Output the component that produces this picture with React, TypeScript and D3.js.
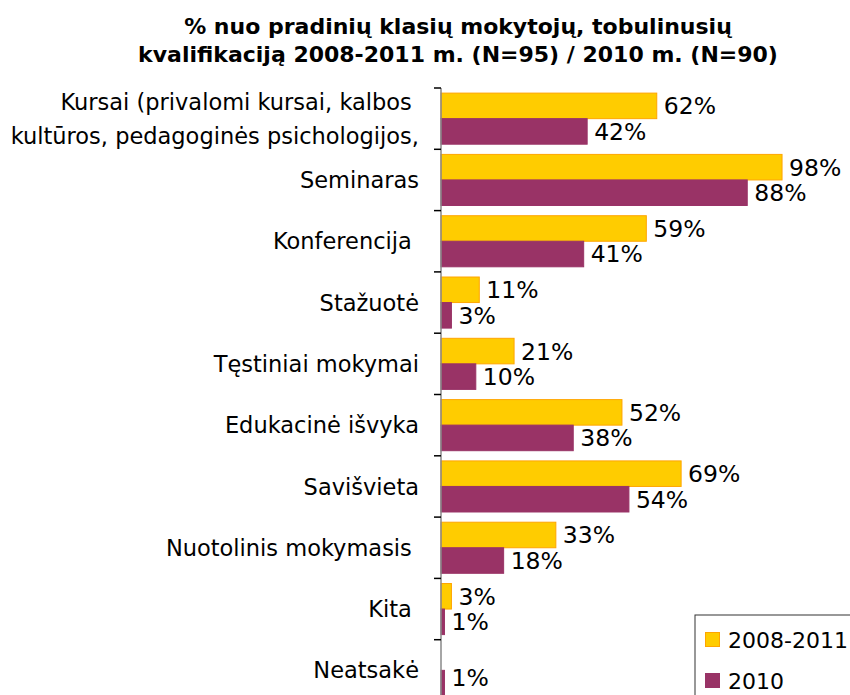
import React from "react";
import * as d3 from "d3";

const titleLines = [
  "% nuo pradinių klasių mokytojų, tobulinusių",
  "kvalifikaciją 2008-2011 m. (N=95) / 2010 m. (N=90)",
];
const categories = [
  "Kursai (privalomi kursai, kalbos kultūros, pedagoginės psichologijos,",
  "Seminaras",
  "Konferencija",
  "Stažuotė",
  "Tęstiniai mokymai",
  "Edukacinė išvyka",
  "Savišvieta",
  "Nuotolinis mokymasis",
  "Kita",
  "Neatsakė",
];
const categoryLines: string[][] = [
  ["Kursai (privalomi kursai, kalbos ", "kultūros, pedagoginės psichologijos,"],
  ["Seminaras"],
  ["Konferencija "],
  ["Stažuotė"],
  ["Tęstiniai mokymai"],
  ["Edukacinė išvyka"],
  ["Savišvieta"],
  ["Nuotolinis mokymasis "],
  ["Kita "],
  ["Neatsakė"],
];
const seriesNames = ["2008-2011", "2010"];
const values2008: (number | null)[] = [62, 98, 59, 11, 21, 52, 69, 33, 3, null];
const values2010: (number | null)[] = [42, 88, 41, 3, 10, 38, 54, 18, 1, 1];
const colors = ["#FFCC00", "#993366"];
const strokes = ["#FFA500", "#993366"];

export default function App() {
  const W = 850, H = 695;
  const axisX = 441;
  const x = d3.scaleLinear().domain([0, 100]).range([axisX, 789]);
  const y = d3.scaleBand<string>().domain(categories).range([88, 701]).padding(0);
  const inner = d3.scaleBand<string>().domain(seriesNames).range([0, y.bandwidth()]).paddingInner(0).paddingOuter(0.2);
  const series = [values2008, values2010];
  const font = "'DejaVu Sans', Verdana, sans-serif";
  const ticks = [...categories.map((c) => y(c)!), y.range()[1]];
  const lh = 34;

  return (
    <svg width={W} height={H} style={{ position: "absolute", left: 0, top: 0, background: "#fff" }} fontFamily={font}>
      {titleLines.map((t, i) => (
        <text key={i} x={458} y={34 + i * 28} textAnchor="middle" fontWeight="bold" fontSize={22} fill="#000">
          {t}
        </text>
      ))}
      {series.map((vals, si) =>
        categories.map((c, ci) => {
          const v = vals[ci];
          if (v == null) return null;
          const y0 = y(c)! + inner(seriesNames[si])!;
          const h = inner.bandwidth();
          const ly = Math.min(y0 + h / 2, H - 17);
          return (
            <g key={`${si}-${ci}`}>
              <rect x={x(0)} y={y0} width={x(v) - x(0)} height={h} fill={colors[si]} stroke={strokes[si]} strokeWidth={1} />
              <text x={x(v) + 7} y={ly} dy="0.36em" fontSize={23.5} fill="#000">
                {v}%
              </text>
            </g>
          );
        })
      )}
      <line x1={axisX} x2={axisX} y1={y.range()[0]} y2={y.range()[1]} stroke="#888" strokeWidth={1.5} />
      {ticks.map((t, i) => (
        <line key={i} x1={axisX - 7} x2={axisX} y1={t} y2={t} stroke="#000" strokeWidth={1.5} />
      ))}
      {categories.map((c, ci) => {
        const lines = categoryLines[ci];
        const cy = Math.min(y(c)! + y.bandwidth() / 2, H - 25);
        return lines.map((ln, li) => (
          <text
            key={`${ci}-${li}`}
            x={419}
            y={cy + (li - (lines.length - 1) / 2) * lh}
            dy="0.36em"
            textAnchor="end"
            fontSize={22.5}
            fill="#000"
            style={{ whiteSpace: "pre" }}
          >
            {ln}
          </text>
        ));
      })}
      <rect x={695} y={615} width={170} height={100} fill="#fff" stroke="#333" strokeWidth={1} />
      {seriesNames.map((s, i) => (
        <g key={s}>
          <rect x={705.5} y={632.5 + i * 41} width={14} height={14} fill={colors[i]} stroke={strokes[i]} />
          <text x={728} y={640 + i * 41} dy="0.36em" fontSize={22} fill="#000">
            {s}
          </text>
        </g>
      ))}
    </svg>
  );
}
